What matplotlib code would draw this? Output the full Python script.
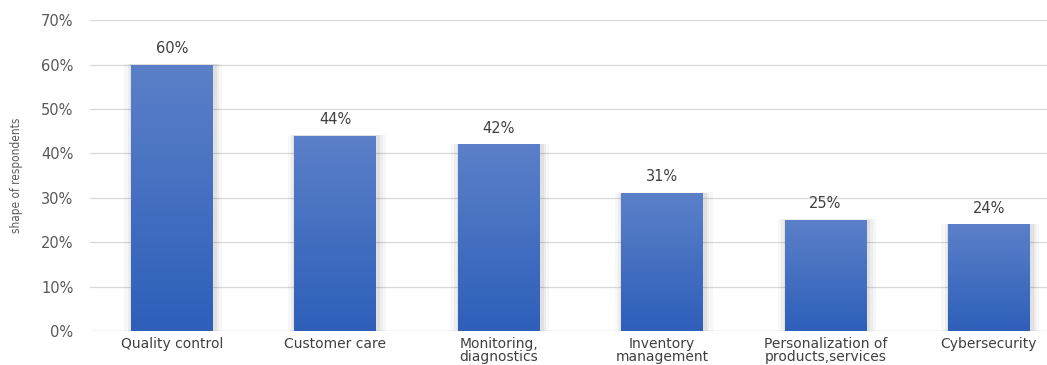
import matplotlib
matplotlib.use("Agg")
import matplotlib.pyplot as plt
import numpy as np

categories = ["Quality control", "Customer care", "Monitoring,\ndiagnostics",
              "Inventory\nmanagement", "Personalization of\nproducts,services",
              "Cybersecurity"]
shares = [60, 44, 42, 31, 25, 24]
yticks = [0, 10, 20, 30, 40, 50, 60, 70]

TXT = "#595959"

fig = plt.figure(figsize=(10.47, 3.65), dpi=100)
ax = fig.add_axes([0.086, 0.093, 0.924, 0.852])

x = np.arange(len(categories))
width = 0.5

# vertical gradient fill, lighter at top
grad = np.linspace(0, 1, 256).reshape(-1, 1)
cmap = matplotlib.colors.LinearSegmentedColormap.from_list("bars", ["#2e5fb9", "#5b80c9"])

bars = ax.bar(x, shares, width=width, color="none", edgecolor="none", zorder=3)
for b, v in zip(bars, shares):
    x0 = b.get_x()
    # soft shadow around the bar
    for k, a in [(0.05, 0.03), (0.03, 0.04), (0.015, 0.05)]:
        ax.bar(x0 + width / 2 + 0.01, v + k * 4, width=width + 2 * k, color="#000000",
               alpha=a, zorder=2, edgecolor="none")
    im = ax.imshow(grad, cmap=cmap, origin="lower", aspect="auto",
                   extent=(x0, x0 + width, 0, v), zorder=3)
    im.set_clip_path(b)
    ax.text(x0 + width / 2, v + 2.0, f"{v}%", ha="center", va="bottom",
            fontsize=10.5, color="#404040")

ax.set_xlim(-0.5, 5.42)
ax.set_ylim(0, 70)
ax.set_yticks(yticks)
ax.set_yticklabels([f"{t}%" for t in yticks], fontsize=10.5, color=TXT)
ax.set_xticks(x)
ax.set_xticklabels(categories, fontsize=10, color="#404040", linespacing=0.95)
ax.tick_params(length=0, pad=12)
ax.tick_params(axis="x", pad=4)
ax.grid(axis="y", color="#d9d9d9", linewidth=0.9, zorder=0)
for s in ax.spines.values():
    s.set_visible(False)
ax.axhline(0, color="#d9d9d9", linewidth=0.9, zorder=1)

ax.set_ylabel("shape of respondents", fontsize=8.5, color=TXT,
              fontfamily="DejaVu Sans", fontstretch="condensed", labelpad=13)

fig.savefig("out.png", dpi=100)
